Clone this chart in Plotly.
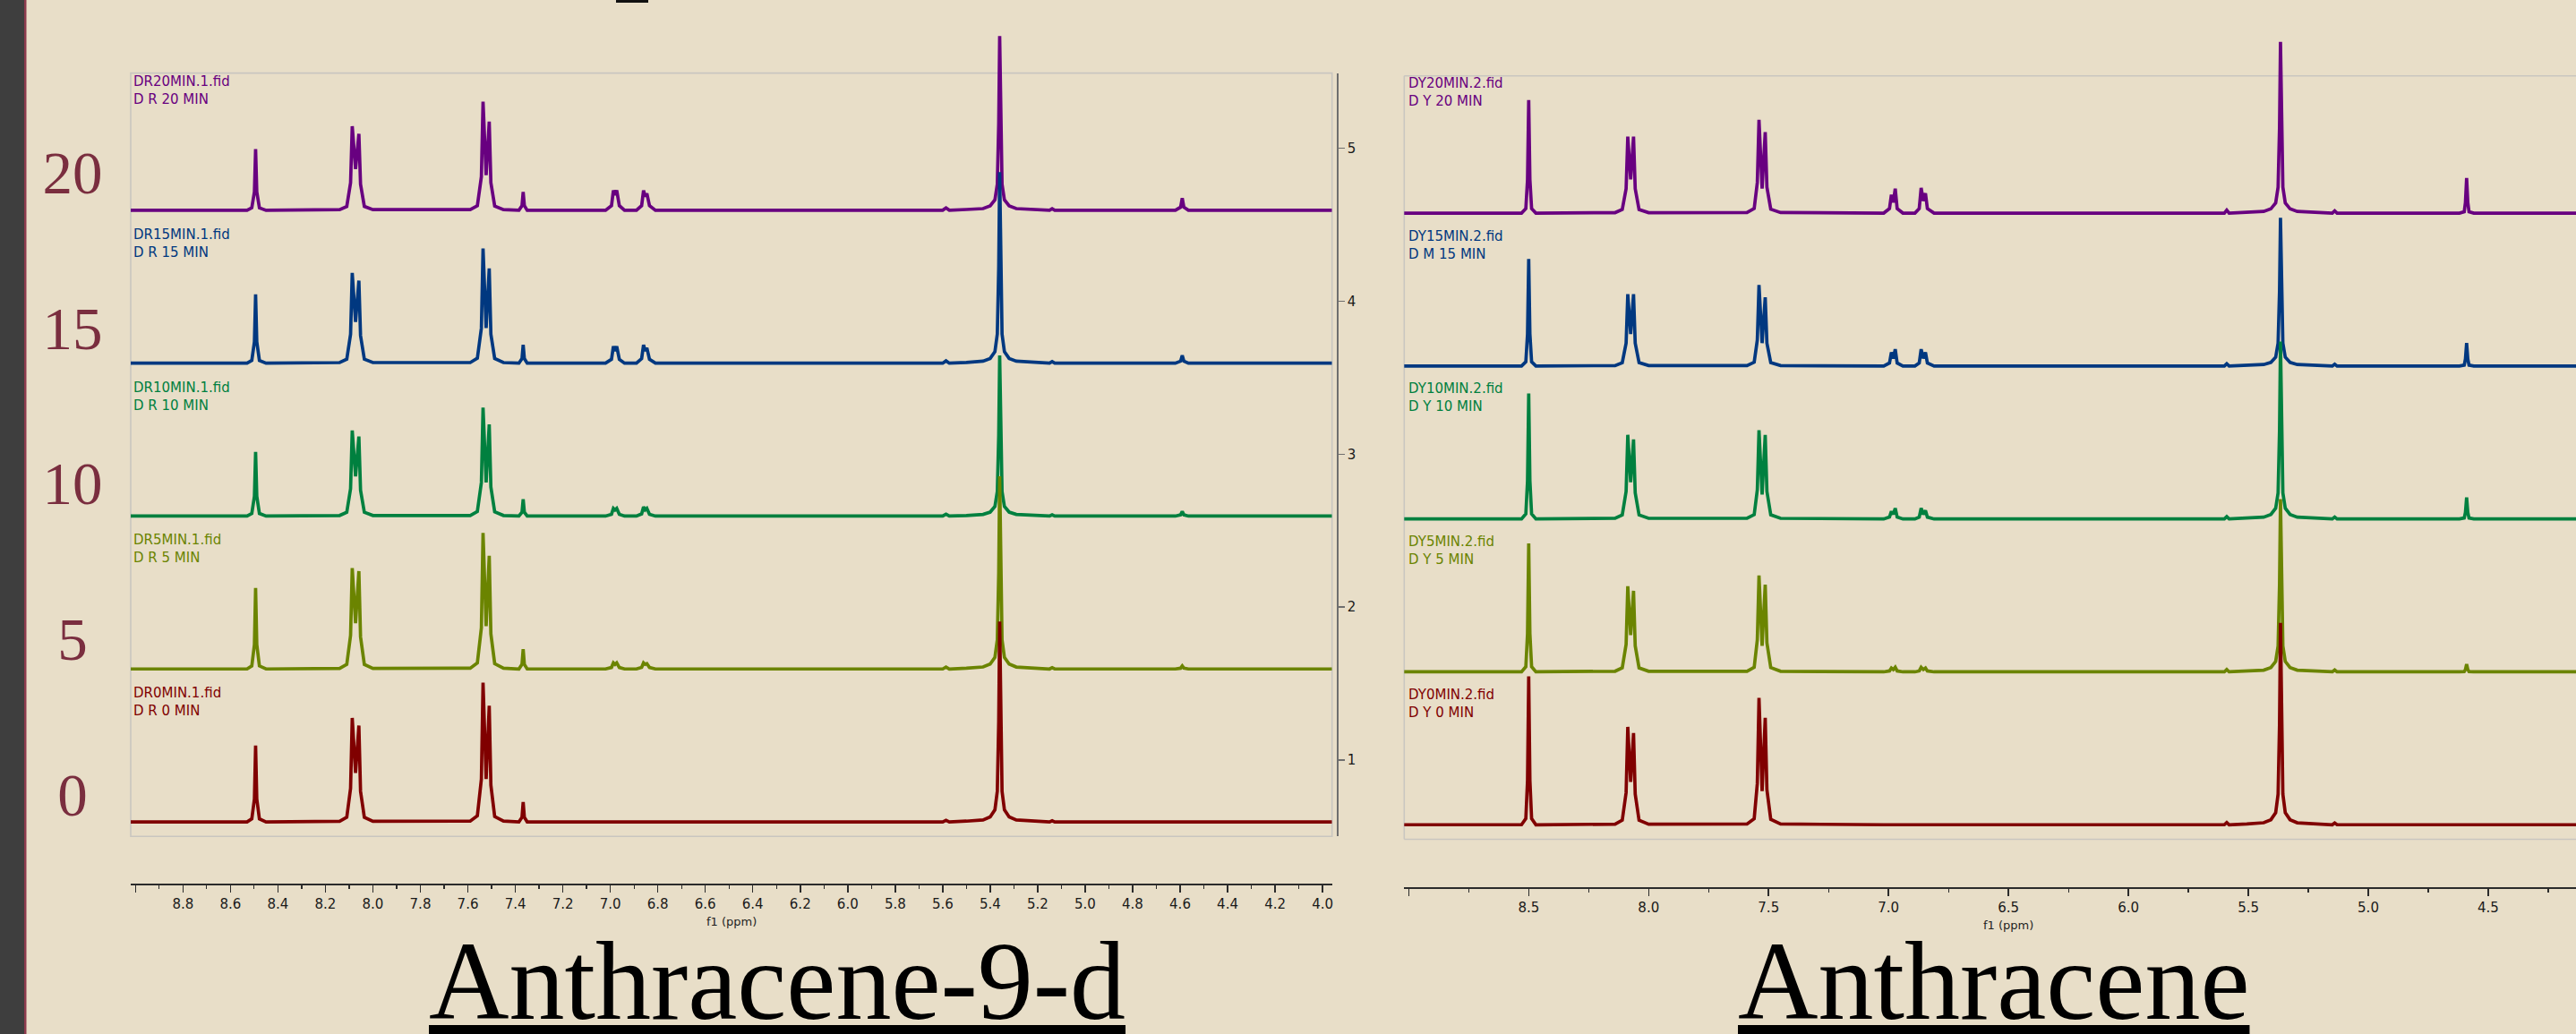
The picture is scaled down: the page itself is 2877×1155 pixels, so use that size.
import plotly.graph_objects as go

W, H = 2877, 1155
BG = '#E8DEC8'

# ---------------- data ----------------
TIMES = [0, 5, 10, 15, 20]                       # minutes (spectrum order, bottom -> top)
COLORS = ['#800000', '#6B8400', '#00803F', '#003880', '#680080']
OFFSETS = [0.595, 1.595, 2.595, 3.595, 4.595]    # stack offsets (intensity units)

LABELS_D = [("DR0MIN.1.fid", "D R 0 MIN"), ("DR5MIN.1.fid", "D R 5 MIN"),
            ("DR10MIN.1.fid", "D R 10 MIN"), ("DR15MIN.1.fid", "D R 15 MIN"),
            ("DR20MIN.1.fid", "D R 20 MIN")]
LABELS_H = [("DY0MIN.2.fid", "D Y 0 MIN"), ("DY5MIN.2.fid", "D Y 5 MIN"),
            ("DY10MIN.2.fid", "D Y 10 MIN"), ("DY15MIN.2.fid", "D M 15 MIN"),
            ("DY20MIN.2.fid", "D Y 20 MIN")]

# Anthracene-9-d : chemical shift points (ppm)
PPM_D = [9.02,
         8.53, 8.51, 8.499, 8.494, 8.489, 8.478, 8.45,
         8.14, 8.11, 8.094, 8.087, 8.073, 8.059, 8.052, 8.036, 8.00,
         7.59, 7.56, 7.543, 7.536, 7.523, 7.510, 7.503, 7.487, 7.45,
         7.385, 7.372, 7.367, 7.362, 7.35,
         7.02, 6.995, 6.987, 6.980, 6.973, 6.962, 6.94,
         6.89, 6.868, 6.860, 6.853, 6.846, 6.835, 6.81,
         5.60, 5.586, 5.572,
         5.50, 5.43, 5.40, 5.38, 5.37, 5.364, 5.360, 5.356, 5.35, 5.34, 5.32, 5.29, 5.22,
         5.15, 5.139, 5.128,
         4.62, 4.598, 4.591, 4.584, 4.565,
         3.96]

D_0 = [0,
       0, 0.02, 0.15, 0.50, 0.15, 0.02, 0,
       0.004, 0.03, 0.22, 0.68, 0.32, 0.63, 0.20, 0.03, 0.004,
       0.005, 0.04, 0.28, 0.91, 0.28, 0.76, 0.24, 0.035, 0.005,
       0, 0.03, 0.13, 0.03, 0,
       0, 0, 0, 0, 0, 0, 0,
       0, 0, 0, 0, 0, 0, 0,
       0, 0.01, 0,
       0.005, 0.013, 0.033, 0.079, 0.20, 0.66, 1.31, 0.66, 0.20, 0.079, 0.033, 0.013, 0.005,
       0, 0.008, 0,
       0, 0, 0, 0, 0,
       0]
D_5 = [0,
       0, 0.02, 0.16, 0.53, 0.16, 0.02, 0,
       0.004, 0.03, 0.22, 0.66, 0.30, 0.64, 0.21, 0.03, 0.004,
       0.005, 0.04, 0.27, 0.89, 0.28, 0.74, 0.23, 0.035, 0.005,
       0, 0.03, 0.13, 0.03, 0,
       0, 0.01, 0.04, 0.03, 0.04, 0.01, 0,
       0, 0.01, 0.04, 0.03, 0.035, 0.01, 0,
       0, 0.012, 0,
       0.005, 0.013, 0.032, 0.076, 0.19, 0.63, 1.26, 0.63, 0.19, 0.076, 0.032, 0.013, 0.005,
       0, 0.008, 0,
       0, 0.005, 0.02, 0.005, 0,
       0]
D_10 = [0,
        0, 0.017, 0.13, 0.42, 0.13, 0.017, 0,
        0.004, 0.025, 0.18, 0.56, 0.26, 0.52, 0.17, 0.025, 0.004,
        0.004, 0.03, 0.22, 0.71, 0.22, 0.60, 0.19, 0.028, 0.004,
        0, 0.025, 0.11, 0.025, 0,
        0, 0.012, 0.05, 0.04, 0.05, 0.012, 0,
        0, 0.014, 0.06, 0.04, 0.05, 0.012, 0,
        0, 0.012, 0,
        0.004, 0.011, 0.026, 0.063, 0.16, 0.53, 1.05, 0.53, 0.16, 0.063, 0.026, 0.011, 0.004,
        0, 0.008, 0,
        0, 0.008, 0.03, 0.008, 0,
        0]
D_15 = [0,
        0, 0.018, 0.14, 0.45, 0.14, 0.018, 0,
        0.004, 0.026, 0.19, 0.59, 0.27, 0.54, 0.18, 0.026, 0.004,
        0.004, 0.032, 0.23, 0.75, 0.23, 0.62, 0.19, 0.03, 0.004,
        0, 0.03, 0.12, 0.03, 0,
        0, 0.025, 0.11, 0.08, 0.11, 0.025, 0,
        0, 0.03, 0.12, 0.08, 0.10, 0.025, 0,
        0, 0.015, 0,
        0.005, 0.013, 0.031, 0.075, 0.19, 0.63, 1.25, 0.63, 0.19, 0.075, 0.031, 0.013, 0.005,
        0, 0.01, 0,
        0, 0.013, 0.05, 0.013, 0,
        0]
D_20 = [0,
        0, 0.016, 0.12, 0.40, 0.12, 0.016, 0,
        0.004, 0.025, 0.18, 0.55, 0.27, 0.50, 0.17, 0.025, 0.004,
        0.004, 0.03, 0.22, 0.71, 0.23, 0.58, 0.18, 0.028, 0.004,
        0, 0.03, 0.12, 0.03, 0,
        0, 0.03, 0.13, 0.10, 0.13, 0.03, 0,
        0, 0.03, 0.13, 0.09, 0.11, 0.03, 0,
        0, 0.015, 0,
        0.005, 0.011, 0.029, 0.068, 0.17, 0.57, 1.14, 0.57, 0.17, 0.068, 0.029, 0.011, 0.005,
        0, 0.01, 0,
        0, 0.02, 0.08, 0.02, 0,
        0]

# Anthracene : chemical shift points (ppm)
PPM_H = [9.02,
         8.53, 8.512, 8.505, 8.500, 8.495, 8.488, 8.47,
         8.14, 8.11, 8.094, 8.087, 8.075, 8.063, 8.056, 8.040, 8.00,
         7.59, 7.56, 7.547, 7.540, 7.527, 7.514, 7.507, 7.491, 7.45,
         7.02, 6.996, 6.988, 6.980, 6.972, 6.964, 6.94,
         6.89, 6.872, 6.864, 6.855, 6.846, 6.838, 6.81,
         5.60, 5.590, 5.58,
         5.506, 5.436, 5.406, 5.386, 5.376, 5.370, 5.366, 5.362, 5.356, 5.346, 5.326, 5.296, 5.226,
         5.15, 5.140, 5.13,
         4.62, 4.600, 4.595, 4.590, 4.585, 4.580, 4.56,
         4.00]

H_0 = [0,
       0, 0.04, 0.29, 0.97, 0.29, 0.04, 0,
       0.004, 0.03, 0.21, 0.64, 0.28, 0.60, 0.20, 0.03, 0.004,
       0.005, 0.04, 0.27, 0.83, 0.22, 0.70, 0.23, 0.035, 0.005,
       0, 0, 0, 0, 0, 0, 0,
       0, 0, 0, 0, 0, 0, 0,
       0, 0.015, 0,
       0.005, 0.013, 0.033, 0.079, 0.20, 0.66, 1.32, 0.66, 0.20, 0.079, 0.033, 0.013, 0.005,
       0, 0.012, 0,
       0, 0, 0, 0, 0, 0, 0,
       0]
H_5 = [0,
       0, 0.034, 0.25, 0.84, 0.25, 0.034, 0,
       0.004, 0.026, 0.18, 0.56, 0.24, 0.53, 0.17, 0.026, 0.004,
       0.004, 0.03, 0.21, 0.63, 0.17, 0.57, 0.19, 0.028, 0.004,
       0, 0.006, 0.025, 0.015, 0.03, 0.006, 0,
       0, 0.006, 0.03, 0.015, 0.025, 0.006, 0,
       0, 0.015, 0,
       0.005, 0.011, 0.028, 0.068, 0.17, 0.57, 1.13, 0.57, 0.17, 0.068, 0.028, 0.011, 0.005,
       0, 0.012, 0,
       0, 0.002, 0.015, 0.05, 0.015, 0.002, 0,
       0]
H_10 = [0,
        0, 0.033, 0.25, 0.82, 0.25, 0.033, 0,
        0.004, 0.026, 0.18, 0.55, 0.24, 0.52, 0.17, 0.026, 0.004,
        0.004, 0.028, 0.19, 0.58, 0.16, 0.55, 0.18, 0.027, 0.004,
        0, 0.012, 0.05, 0.03, 0.07, 0.012, 0,
        0, 0.012, 0.07, 0.03, 0.055, 0.012, 0,
        0, 0.015, 0,
        0.005, 0.012, 0.029, 0.07, 0.17, 0.58, 1.16, 0.58, 0.17, 0.07, 0.029, 0.012, 0.005,
        0, 0.012, 0,
        0, 0.006, 0.042, 0.14, 0.042, 0.006, 0,
        0]
H_15 = [0,
        0, 0.028, 0.21, 0.70, 0.21, 0.028, 0,
        0.003, 0.022, 0.15, 0.47, 0.21, 0.47, 0.15, 0.022, 0.003,
        0.003, 0.025, 0.17, 0.53, 0.15, 0.45, 0.15, 0.022, 0.003,
        0, 0.02, 0.09, 0.05, 0.11, 0.02, 0,
        0, 0.02, 0.11, 0.05, 0.09, 0.02, 0,
        0, 0.015, 0,
        0.004, 0.01, 0.024, 0.058, 0.15, 0.49, 0.97, 0.49, 0.15, 0.058, 0.024, 0.01, 0.004,
        0, 0.012, 0,
        0, 0.006, 0.045, 0.15, 0.045, 0.006, 0,
        0]
H_20 = [0,
        0, 0.03, 0.22, 0.74, 0.22, 0.03, 0,
        0.003, 0.024, 0.16, 0.50, 0.22, 0.50, 0.16, 0.024, 0.003,
        0.004, 0.03, 0.20, 0.61, 0.16, 0.53, 0.17, 0.026, 0.004,
        0, 0.03, 0.12, 0.07, 0.16, 0.03, 0,
        0, 0.03, 0.165, 0.08, 0.13, 0.03, 0,
        0, 0.02, 0,
        0.004, 0.011, 0.028, 0.067, 0.17, 0.56, 1.12, 0.56, 0.17, 0.067, 0.028, 0.011, 0.004,
        0, 0.015, 0,
        0, 0.009, 0.07, 0.23, 0.07, 0.009, 0,
        0]

SPEC_D = [D_0, D_5, D_10, D_15, D_20]
SPEC_H = [H_0, H_5, H_10, H_15, H_20]

# axis ticks
XT_D = [9.0, 8.8, 8.6, 8.4, 8.2, 8.0, 7.8, 7.6, 7.4, 7.2, 7.0, 6.8, 6.6, 6.4, 6.2,
        6.0, 5.8, 5.6, 5.4, 5.2, 5.0, 4.8, 4.6, 4.4, 4.2, 4.0]
XT_D_TEXT = [''] + ['%.1f' % v for v in XT_D[1:]]
XT_H = [9.0, 8.5, 8.0, 7.5, 7.0, 6.5, 6.0, 5.5, 5.0, 4.5]
XT_H_TEXT = [''] + ['%.1f' % v for v in XT_H[1:]]
RIGHT_TICKS = [1, 2, 3, 4, 5]
SLIDE_LABELS = [0, 5, 10, 15, 20]

# ---------------- geometry (pixels) ----------------
PXU = 170.8                       # pixels per intensity unit
L_X0, L_X1 = 146, 1487.7
L_TOP, L_BOT = 81.6, 934.3
R_X0 = 1568.3
R_TOP, R_BOT = 84.8, 937.5

def px(v):
    return v / W

def py(v):
    return 1 - v / H

fig = go.Figure()

LW = 3.7
# spectra: top spectrum drawn first, bottom spectrum last (on top)
for i in reversed(range(5)):
    fig.add_trace(go.Scatter(
        x=PPM_D, y=[v + OFFSETS[i] for v in SPEC_D[i]], mode='lines',
        line=dict(color=COLORS[i], width=LW), xaxis='x', yaxis='y',
        hoverinfo='skip', showlegend=False))
for i in reversed(range(5)):
    fig.add_trace(go.Scatter(
        x=PPM_H, y=[v + OFFSETS[i] for v in SPEC_H[i]], mode='lines',
        line=dict(color=COLORS[i], width=LW), xaxis='x2', yaxis='y4',
        hoverinfo='skip', showlegend=False))

# carrier for the intensity axis on the right of the first panel
fig.add_trace(go.Scatter(x=[PPM_D[-1]] * len(RIGHT_TICKS), y=RIGHT_TICKS, mode='markers',
                         marker=dict(opacity=0), xaxis='x', yaxis='y2',
                         hoverinfo='skip', showlegend=False))

# big slide numbers on the left
fig.add_trace(go.Scatter(x=[0.5] * len(SLIDE_LABELS), y=SLIDE_LABELS,
                         text=[str(v) for v in SLIDE_LABELS], mode='text',
                         textposition='middle center',
                         textfont=dict(family='Liberation Serif', size=67, color='#7A2E3F'),
                         xaxis='x3', yaxis='y3', cliponaxis=False,
                         hoverinfo='skip', showlegend=False))

tickfont = dict(family='DejaVu Sans', size=15, color='#1A1A1A')
axcol = '#2B2B2B'

fig.update_layout(
    width=W, height=H, autosize=False,
    margin=dict(l=0, r=0, t=0, b=0, pad=0),
    paper_bgcolor=BG, plot_bgcolor='rgba(0,0,0,0)',
    hovermode=False, showlegend=False,
    xaxis=dict(domain=[px(L_X0), px(L_X1)], range=[9.02, 3.96], anchor='free',
               position=py(988), showline=True, linecolor=axcol, linewidth=2,
               ticks='outside', ticklen=8, tickwidth=1.5, tickcolor=axcol,
               tickmode='array', tickvals=XT_D, ticktext=XT_D_TEXT, tickfont=tickfont,
               minor=dict(tickmode='linear', tick0=0, dtick=0.1, ticklen=4,
                          tickwidth=1.2, tickcolor=axcol, showgrid=False),
               showgrid=False, zeroline=False, fixedrange=True),
    yaxis=dict(domain=[py(L_BOT), 1], range=[0.5, 0.5 + L_BOT / PXU], visible=False,
               anchor='x', fixedrange=True),
    yaxis2=dict(domain=[py(L_BOT), py(L_TOP)], range=[0.5, 0.5 + (L_BOT - L_TOP) / PXU],
                anchor='free', position=px(1493.7), side='right', showline=True,
                linecolor='#6E6E6E', linewidth=2, ticks='outside', ticklen=7,
                tickwidth=1.5, tickcolor='#6E6E6E', tickmode='array', tickvals=RIGHT_TICKS,
                tickfont=tickfont, showgrid=False, zeroline=False, fixedrange=True),
    xaxis2=dict(domain=[px(R_X0), 1], range=[9.019, 4.134], anchor='free',
                position=py(992), showline=True, linecolor=axcol, linewidth=2,
                ticks='outside', ticklen=8, tickwidth=1.5, tickcolor=axcol,
                tickmode='array', tickvals=XT_H, ticktext=XT_H_TEXT, tickfont=tickfont,
                minor=dict(tickmode='linear', tick0=0, dtick=0.25, ticklen=4,
                           tickwidth=1.2, tickcolor=axcol, showgrid=False),
                showgrid=False, zeroline=False, fixedrange=True),
    yaxis4=dict(domain=[py(R_BOT), 1], range=[0.5, 0.5 + R_BOT / PXU], visible=False,
                anchor='x2', fixedrange=True),
    xaxis3=dict(domain=[0, px(162)], range=[0, 1], visible=False, fixedrange=True),
    yaxis3=dict(domain=[0, 1], range=[-(H - 894) / 34.75, 20 + 199 / 34.75],
                visible=False, anchor='x3', fixedrange=True),
)

boxcol = '#C9C6C0'
shapes = [
    dict(type='rect', xref='paper', yref='paper', x0=0, x1=px(27), y0=0, y1=1,
         fillcolor='#3E3E3E', line=dict(width=0), layer='below'),
    dict(type='rect', xref='paper', yref='paper', x0=px(27), x1=px(29.5), y0=0, y1=1,
         fillcolor='#8B3A4C', line=dict(width=0), layer='below'),
    dict(type='rect', xref='paper', yref='paper', x0=px(L_X0), x1=px(L_X1),
         y0=py(L_BOT), y1=py(L_TOP), line=dict(color=boxcol, width=1.6), layer='below'),
    dict(type='line', xref='paper', yref='paper', x0=px(R_X0), x1=1,
         y0=py(R_TOP), y1=py(R_TOP), line=dict(color=boxcol, width=1.6), layer='below'),
    dict(type='line', xref='paper', yref='paper', x0=px(R_X0), x1=1,
         y0=py(R_BOT), y1=py(R_BOT), line=dict(color=boxcol, width=1.6), layer='below'),
    dict(type='line', xref='paper', yref='paper', x0=px(R_X0), x1=px(R_X0),
         y0=py(R_BOT), y1=py(R_TOP), line=dict(color=boxcol, width=1.6), layer='below'),
    dict(type='rect', xref='paper', yref='paper', x0=px(688), x1=px(724),
         y0=py(3), y1=1, fillcolor='#111111', line=dict(width=0)),
]
fig.update_layout(shapes=shapes)

ann = []
labfont = 'DejaVu Sans'
for i in range(5):
    for j, dy in enumerate([0.842, 0.725]):
        ann.append(dict(xref='x domain', yref='y', x=0, y=OFFSETS[i] + dy,
                        text=LABELS_D[i][j], showarrow=False, xanchor='left',
                        yanchor='middle', xshift=1,
                        font=dict(family=labfont, size=15, color=COLORS[i])))
    for j, dy in enumerate([0.85, 0.733]):
        ann.append(dict(xref='x2 domain', yref='y4', x=0, y=OFFSETS[i] + dy,
                        text=LABELS_H[i][j], showarrow=False, xanchor='left',
                        yanchor='middle', xshift=3,
                        font=dict(family=labfont, size=15, color=COLORS[i])))

ann.append(dict(xref='x domain', yref='paper', x=0.5, y=py(1029), text='f1 (ppm)',
                showarrow=False, xanchor='center', yanchor='middle',
                font=dict(family=labfont, size=13, color='#1E1E1E')))
ann.append(dict(xref='x2', yref='paper', x=6.5, y=py(1033), text='f1 (ppm)',
                showarrow=False, xanchor='center', yanchor='middle',
                font=dict(family=labfont, size=13, color='#1E1E1E')))

TITLE_SIZE = 124
ann.append(dict(xref='paper', yref='paper', x=px(868), y=py(1096),
                text='<u>Anthracene-9-d</u>', showarrow=False, xanchor='center',
                yanchor='middle',
                font=dict(family='Liberation Serif', size=TITLE_SIZE, color='#000000')))
ann.append(dict(xref='paper', yref='paper', x=px(2226), y=py(1096),
                text='<u>Anthracene</u>', showarrow=False, xanchor='center',
                yanchor='middle',
                font=dict(family='Liberation Serif', size=TITLE_SIZE, color='#000000')))

fig.update_layout(annotations=ann)

fig.write_html("out.html", config={'displayModeBar': False, 'staticPlot': True},
               post_script="document.body.style.margin='0';document.body.style.overflow='hidden';")
